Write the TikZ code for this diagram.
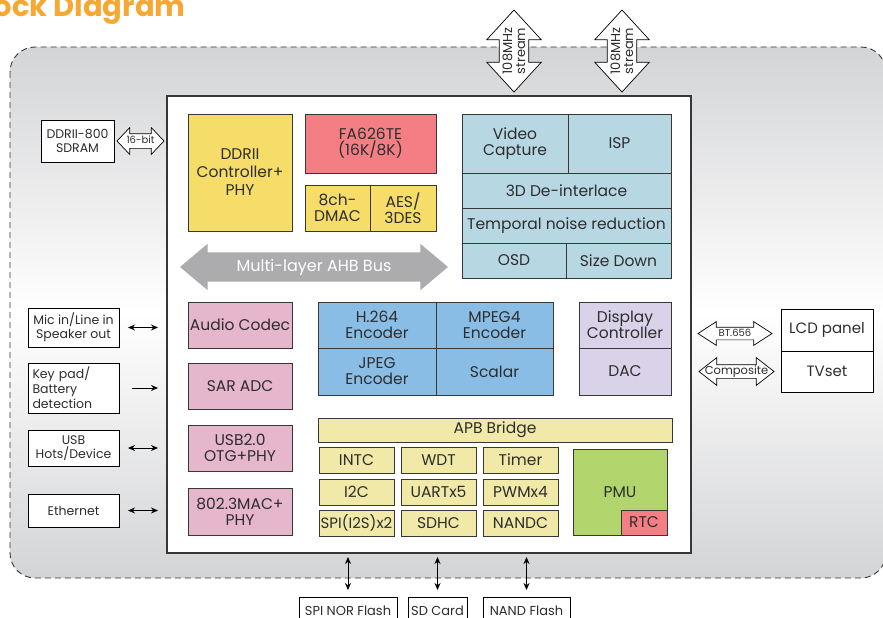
\documentclass[tikz,border=0pt]{standalone}
\usepackage{fontspec}
\setmainfont{Poppins}
\usepackage{tikz}
\usetikzlibrary{arrows.meta,shapes,positioning}

\definecolor{titleor}{RGB}{247,168,51}
\definecolor{bggray}{RGB}{211,212,214}
\definecolor{ddryel}{RGB}{246,221,106}
\definecolor{cpured}{RGB}{243,127,133}
\definecolor{vidblue}{RGB}{183,215,227}
\definecolor{encblue}{RGB}{137,189,229}
\definecolor{dispurple}{RGB}{217,210,233}
\definecolor{audpink}{RGB}{230,182,204}
\definecolor{apbyel}{RGB}{241,233,168}
\definecolor{pmugreen}{RGB}{178,213,110}
\definecolor{busgray}{RGB}{172,172,174}
\definecolor{txt}{RGB}{45,45,45}
\definecolor{boxline}{RGB}{55,55,55}

\begin{document}
\begin{tikzpicture}[x=1pt, y=-1pt,
    blk/.style={rectangle, draw=boxline, line width=0.9pt, text=txt, align=center,
                inner sep=0pt, outer sep=0pt, font=\fontsize{15.5}{16}\selectfont},
    ext/.style={rectangle, draw=black, fill=white, line width=0.9pt, text=txt, align=center,
                inner sep=0pt, outer sep=0pt, font=\fontsize{12.5}{14}\selectfont},
    hollow/.style={double arrow, draw=black, fill=white, line width=0.7pt, text=txt,
                inner xsep=-10pt, outer sep=0pt},
    link/.style={{Stealth[length=7pt,width=6pt]}-{Stealth[length=7pt,width=6pt]}, line width=0.9pt},
    feed/.style={-{Stealth[length=7pt,width=6pt]}, line width=0.9pt},
    apb/.style={blk, fill=apbyel, minimum width=75, minimum height=26}]
\useasboundingbox (0,0) rectangle (883,618);

% title and board
\node (title) [anchor=base east, text=titleor, font=\bfseries\fontsize{29}{30}\selectfont] at (189,17) {Block Diagram};
\draw[draw=boxline, line width=0.9pt, dash pattern=on 6pt off 4pt, rounded corners=25pt,
      top color=bggray, bottom color=bggray, middle color=white] (10,47) rectangle (886,578);

% the chip
\node (chip) [draw=boxline, line width=1.6pt, fill=white, outer sep=0pt, minimum width=524, minimum height=457] at (429,324.5) {};

% core, memory and bus
\node (ddr) [blk, fill=ddryel, minimum width=104, minimum height=117, font=\fontsize{15.5}{18}\selectfont] at (240,172.5) {DDRII\\Controller+\\PHY};
\node (cpu) [blk, fill=cpured, minimum width=131, minimum height=59] at (370.5,143.5) {FA626TE\\(16K/8K)};
\node (dmac) [blk, fill=ddryel, minimum width=65, minimum height=46] at (337.5,208) {8ch-\\DMAC};
\node (aes) [blk, fill=ddryel, minimum width=66, minimum height=46, right=0pt of dmac] {AES/\\3DES};
\node (ahb) [double arrow, fill=busgray, text=white, minimum height=268, double arrow head extend=8.5,
             double arrow tip angle=80, text height=11, text depth=3, inner ysep=7.5,
             font=\fontsize{16}{16}\selectfont] at (314,267) {Multi-layer AHB Bus};

% video path
\node (vcap) [blk, fill=vidblue, minimum width=106, minimum height=59] at (515,143.5) {Video\\Capture};
\node (isp) [blk, fill=vidblue, minimum width=103, minimum height=59, right=0pt of vcap] {ISP};
\node (deint) [blk, fill=vidblue, minimum width=209, minimum height=35] at (566.5,190.5) {3D De-interlace};
\node (tnr) [blk, fill=vidblue, minimum width=209, minimum height=35, below=0pt of deint] {Temporal noise reduction};
\node (osd) [blk, fill=vidblue, minimum width=104, minimum height=35] at (514,260.5) {OSD};
\node (sizedn) [blk, fill=vidblue, minimum width=105, minimum height=35, right=0pt of osd] {Size Down};

% audio and interfaces
\node (audio) [blk, fill=audpink, minimum width=104, minimum height=46] at (240,325) {Audio Codec};
\node (sar) [blk, fill=audpink, minimum width=104, minimum height=46] at (240,386) {SAR ADC};
\node (otg) [blk, fill=audpink, minimum width=104, minimum height=46] at (240,448) {USB2.0\\OTG+PHY};
\node (mac) [blk, fill=audpink, minimum width=104, minimum height=47] at (240,511.5) {802.3MAC+\\PHY};

% codecs and display
\node (h264) [blk, fill=encblue, minimum width=118, minimum height=46] at (377,325) {H.264\\Encoder};
\node (mpeg4) [blk, fill=encblue, minimum width=117, minimum height=46, right=0pt of h264] {MPEG4\\Encoder};
\node (jpeg) [blk, fill=encblue, minimum width=118, minimum height=47, below=0pt of h264] {JPEG\\Encoder};
\node (scalar) [blk, fill=encblue, minimum width=117, minimum height=47, right=0pt of jpeg] {Scalar};
\node (disp) [blk, fill=dispurple, minimum width=92, minimum height=46] at (625,325) {Display\\Controller};
\node (dac) [blk, fill=dispurple, minimum width=92, minimum height=47, below=0pt of disp] {DAC};

% peripherals
\node (apbbr) [blk, fill=apbyel, minimum width=354, minimum height=24] at (495,430) {APB Bridge};
\node (intc) [apb] at (356.5,460) {INTC};
\node (wdt) [apb, right=7pt of intc] {WDT};
\node (timer) [apb, right=7pt of wdt] {Timer};
\node (i2c) [apb] at (356.5,492) {I2C};
\node (uart) [apb, right=7pt of i2c] {UARTx5};
\node (pwm) [apb, right=7pt of uart] {PWMx4};
\node (spi) [apb, font=\fontsize{15}{16}\selectfont] at (356.5,523) {SPI(I2S)x2};
\node (sdhc) [apb, right=7pt of spi] {SDHC};
\node (nandc) [apb, right=7pt of sdhc] {NANDC};
\node (pmu) [blk, fill=pmugreen, minimum width=94, minimum height=86] at (620,492) {PMU};
\node (rtc) [blk, fill=cpured, minimum width=46, minimum height=25] at (644,522.5) {RTC};

% outside the chip, left
\node (sdram) [ext, minimum width=73, minimum height=42] at (77.5,141) {DDRII-800\\SDRAM};
\node (bw) [hollow, double arrow head extend=6, double arrow tip angle=93, minimum height=47,
            text height=6, text depth=0.5, inner ysep=3.75, font=\fontsize{10}{10}\selectfont] at (140.5,141) {16-bit};
\node (mic) [ext, minimum width=91, minimum height=39] at (73.5,327.5) {Mic in/Line in\\Speaker out};
\node (key) [ext, minimum width=91, minimum height=50, text width=82, align=left, font=\fontsize{12.5}{15}\selectfont] at (73.5,388) {Key pad/\\Battery\\detection};
\node (usbh) [ext, minimum width=91, minimum height=36] at (73.5,448) {USB\\Hots/Device};
\node (ether) [ext, minimum width=91, minimum height=33] at (73.5,510.5) {Ethernet};
\draw[link, shorten <=9pt, shorten >=9pt] (mic.east) -- (mic.east -| chip.west);
\draw[feed, shorten <=13pt, shorten >=9pt] (key.east) -- (key.east -| chip.west);
\draw[link, shorten <=9pt, shorten >=9pt] (usbh.east) -- (usbh.east -| chip.west);
\draw[link, shorten <=9pt, shorten >=9pt] (ether.east) -- (ether.east -| chip.west);

% outside the chip, right
\node (lcd) [ext, minimum width=92, minimum height=42, font=\fontsize{15}{15}\selectfont] at (827,330) {LCD panel};
\node (tv) [ext, minimum width=92, minimum height=41, font=\fontsize{15}{15}\selectfont, below=0pt of lcd] {TVset};
\node (bt) [hollow, double arrow head extend=5.5, double arrow tip angle=66, minimum height=74,
            text height=6.5, text depth=0.5, inner ysep=2.5, font=\fontsize{10}{10}\selectfont] at (735,333.5) {BT.656};
\node (comp) [hollow, double arrow head extend=7, double arrow tip angle=76, minimum height=75, inner xsep=-14pt,
              text height=7, text depth=2, inner ysep=2, font=\fontsize{11.5}{11.5}\selectfont] at (736.5,371.5) {Composite};

% outside the chip, top
\node (strm1) [hollow, rotate=90, double arrow head extend=12.5, double arrow tip angle=85, minimum height=82,
               inner xsep=-12pt, inner ysep=3, align=center, font=\fontsize{13}{13}\selectfont] at (514,51) {108MHz\\stream};
\node (strm2) [hollow, rotate=90, double arrow head extend=12.5, double arrow tip angle=85, minimum height=82,
               inner xsep=-12pt, inner ysep=3, align=center, font=\fontsize{13}{13}\selectfont] at (622,51) {108MHz\\stream};

% outside the chip, bottom
\node (spinor) [ext, minimum width=98, minimum height=28, font=\fontsize{13}{13}\selectfont] at (348,611) {SPI NOR Flash};
\node (sdcard) [ext, minimum width=59, minimum height=28, font=\fontsize{13}{13}\selectfont] at (437.5,611) {SD Card};
\node (nand) [ext, minimum width=87, minimum height=28, font=\fontsize{13}{13}\selectfont] at (526.5,611) {NAND Flash};
\draw[link, shorten <=4pt, shorten >=7pt] (spinor.north |- chip.south) -- (spinor.north);
\draw[link, shorten <=4pt, shorten >=7pt] (sdcard.north |- chip.south) -- (sdcard.north);
\draw[link, shorten <=4pt, shorten >=7pt] (nand.north |- chip.south) -- (nand.north);
\end{tikzpicture}
\end{document}
